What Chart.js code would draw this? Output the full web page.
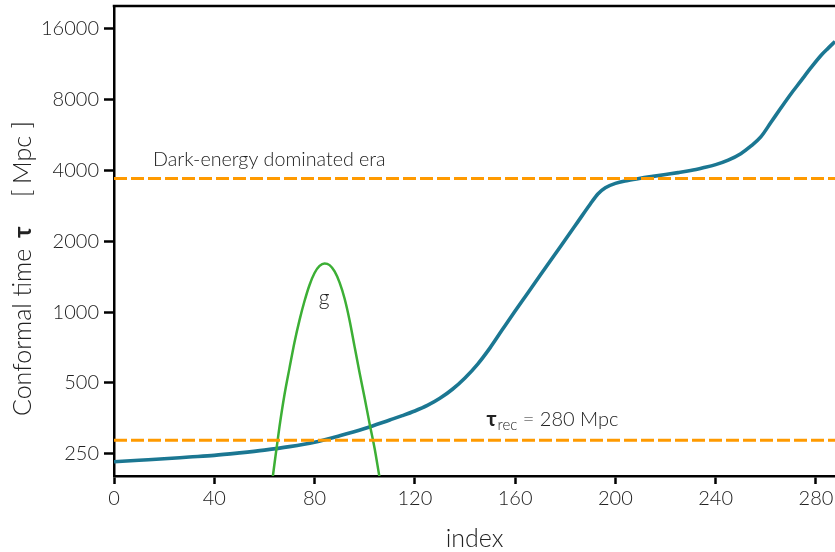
<!DOCTYPE html>
<html><head><meta charset="utf-8">
<script src="https://cdn.jsdelivr.net/npm/chart.js@4.4.0/dist/chart.umd.min.js"></script>
<style>html,body{margin:0;padding:0;background:#fff;overflow:hidden}#wrap{width:835px;height:552px;position:relative}</style>
</head><body><div id="wrap"><canvas id="c" width="835" height="552"></canvas></div>
<script>
// ---- data ----
const xTicks = [0, 40, 80, 120, 160, 200, 240, 280];
const yTicks = [250, 500, 1000, 2000, 4000, 8000, 16000];
const xRange = [0, 287.6];
const yRange = [201, 20040];

const tauIndex  = [0, 10, 20, 30, 40, 50, 60, 70, 80, 90, 100, 110, 115, 120, 125, 130, 135, 140, 145, 150, 155, 160, 165, 170, 175, 180, 185, 190, 193, 196, 200, 205, 210, 215, 220, 225, 230, 235, 240, 245, 250, 254, 258, 262, 266, 270, 274, 278, 282, 285, 287.6];
const tauValues = [231, 234.5, 238, 242, 246, 252, 259, 268, 280, 298, 320, 348, 363, 380, 401, 430, 470, 525, 600, 705, 845, 1011, 1204, 1434, 1707, 2033, 2421, 2883, 3180, 3380, 3530, 3630, 3710, 3780, 3850, 3920, 4000, 4110, 4240, 4430, 4720, 5080, 5560, 6400, 7380, 8470, 9620, 10950, 12350, 13300, 14160];

const gIndex  = [62, 64, 66, 68, 70, 72, 74, 76, 78, 80, 82, 84, 86, 88, 90, 92, 94, 96, 98, 100, 102, 104, 106, 108];
const gValues = [155, 226, 325, 445, 578, 745, 925, 1115, 1305, 1467, 1572, 1611, 1585, 1490, 1335, 1140, 920, 710, 550, 430, 334, 262, 196, 150];

const recTau = 285;     // recombination line
const darkTau = 3700;   // dark-energy era line

const darkLabel = {text: 'Dark-energy dominated era', x: 15.6, y: 4180};
const recLabel  = {x: 148.6, y: 328};
const gLabel    = {text: 'g', x: 83.8, y: 1074};

// ---- chart ----
const FONT = 'Lato';
const pts = (xs, ys) => xs.map((x, i) => ({x, y: ys[i]}));
const hline = v => [{x: xRange[0], y: v}, {x: xRange[1], y: v}];

const decor = {
  id: 'decor',
  afterDraw(chart) {
    const {ctx, chartArea: a, scales: {x, y}} = chart;
    ctx.save();
    // top spine
    ctx.strokeStyle = '#000'; ctx.lineWidth = 2.5;
    ctx.beginPath(); ctx.moveTo(a.left - 1.25, a.top); ctx.lineTo(a.right, a.top); ctx.stroke();
    ctx.fillStyle = '#222';
    ctx.textBaseline = 'alphabetic'; ctx.textAlign = 'left';
    // dark energy label
    ctx.font = `300 19.7px ${FONT}`;
    ctx.fillText(darkLabel.text, x.getPixelForValue(darkLabel.x), y.getPixelForValue(darkLabel.y));
    // tau_rec label
    let px = x.getPixelForValue(recLabel.x), py = y.getPixelForValue(recLabel.y);
    ctx.font = `bold 21px ${FONT}`;
    ctx.fillText('τ', px, py); px += ctx.measureText('τ').width + 1;
    ctx.font = `300 15px ${FONT}`;
    ctx.fillText('rec', px, py + 4); px += ctx.measureText('rec').width;
    ctx.font = `300 20px ${FONT}`;
    ctx.fillText(' = 280 Mpc', px, py);
    // g label
    ctx.textAlign = 'center';
    ctx.font = `300 21px ${FONT}`;
    ctx.fillText(gLabel.text, x.getPixelForValue(gLabel.x), y.getPixelForValue(gLabel.y));
    // y axis title (rotated, reads bottom to top)
    ctx.translate(31, 416); ctx.rotate(-Math.PI / 2);
    ctx.textAlign = 'left';
    ctx.font = `300 25px ${FONT}`;
    ctx.fillText('Conformal time', 0, 0);
    ctx.font = `bold 24px ${FONT}`;
    ctx.fillText('τ', 178, 0);
    ctx.font = `300 25px ${FONT}`;
    ctx.fillText('[', 219, 0);
    ctx.fillText('Mpc', 232, 0);
    ctx.textAlign = 'right';
    ctx.fillText(']', 295, 0);
    ctx.restore();
  }
};

new Chart(document.getElementById('c'), {
  type: 'line',
  data: {
    datasets: [
      {data: hline(darkTau), borderColor: '#ff9a00', borderWidth: 3, borderDash: [13, 4], pointRadius: 0, tension: 0},
      {data: hline(recTau), borderColor: '#ff9a00', borderWidth: 3, borderDash: [13, 4], pointRadius: 0, tension: 0},
      {data: pts(gIndex, gValues), borderColor: '#3caf35', borderWidth: 2.5, pointRadius: 0, cubicInterpolationMode: 'monotone'},
      {data: pts(tauIndex, tauValues), borderColor: '#1b7792', borderWidth: 3.6, pointRadius: 0, cubicInterpolationMode: 'monotone'}
    ]
  },
  options: {
    responsive: false, animation: false, devicePixelRatio: 1,
    layout: {padding: {top: 6, left: 0, right: 0, bottom: 0}},
    plugins: {legend: {display: false}, tooltip: {enabled: false}},
    scales: {
      x: {
        type: 'linear', min: xRange[0], max: xRange[1],
        afterBuildTicks: s => { s.ticks = xTicks.map(v => ({value: v})); },
        afterFit: s => { s.height = 76; s.paddingLeft = 0; s.paddingRight = 0; },
        ticks: {color: '#222', padding: 3, font: {family: FONT, size: 20, weight: '300'}, callback: v => String(v), maxRotation: 0, autoSkip: false},
        grid: {display: true, drawOnChartArea: false, drawTicks: true, tickLength: 8, tickWidth: 2.5, tickColor: '#000'},
        border: {display: true, color: '#000', width: 2.5},
        title: {display: true, text: 'index', color: '#222', font: {family: FONT, size: 25, weight: '300', lineHeight: 1}, padding: {top: 0, bottom: 1}}
      },
      y: {
        type: 'logarithmic', min: yRange[0], max: yRange[1],
        afterBuildTicks: s => { s.ticks = yTicks.map(v => ({value: v})); },
        afterFit: s => { s.width = 114; s.paddingTop = 0; s.paddingBottom = 0; },
        ticks: {color: '#222', padding: 5, font: {family: FONT, size: 20, weight: '300'}, callback: v => String(v), autoSkip: false},
        grid: {display: true, drawOnChartArea: false, drawTicks: true, tickLength: 10, tickWidth: 2.5, tickColor: '#000'},
        border: {display: true, color: '#000', width: 2.5}
      }
    }
  },
  plugins: [decor]
});
</script>
</body></html>
